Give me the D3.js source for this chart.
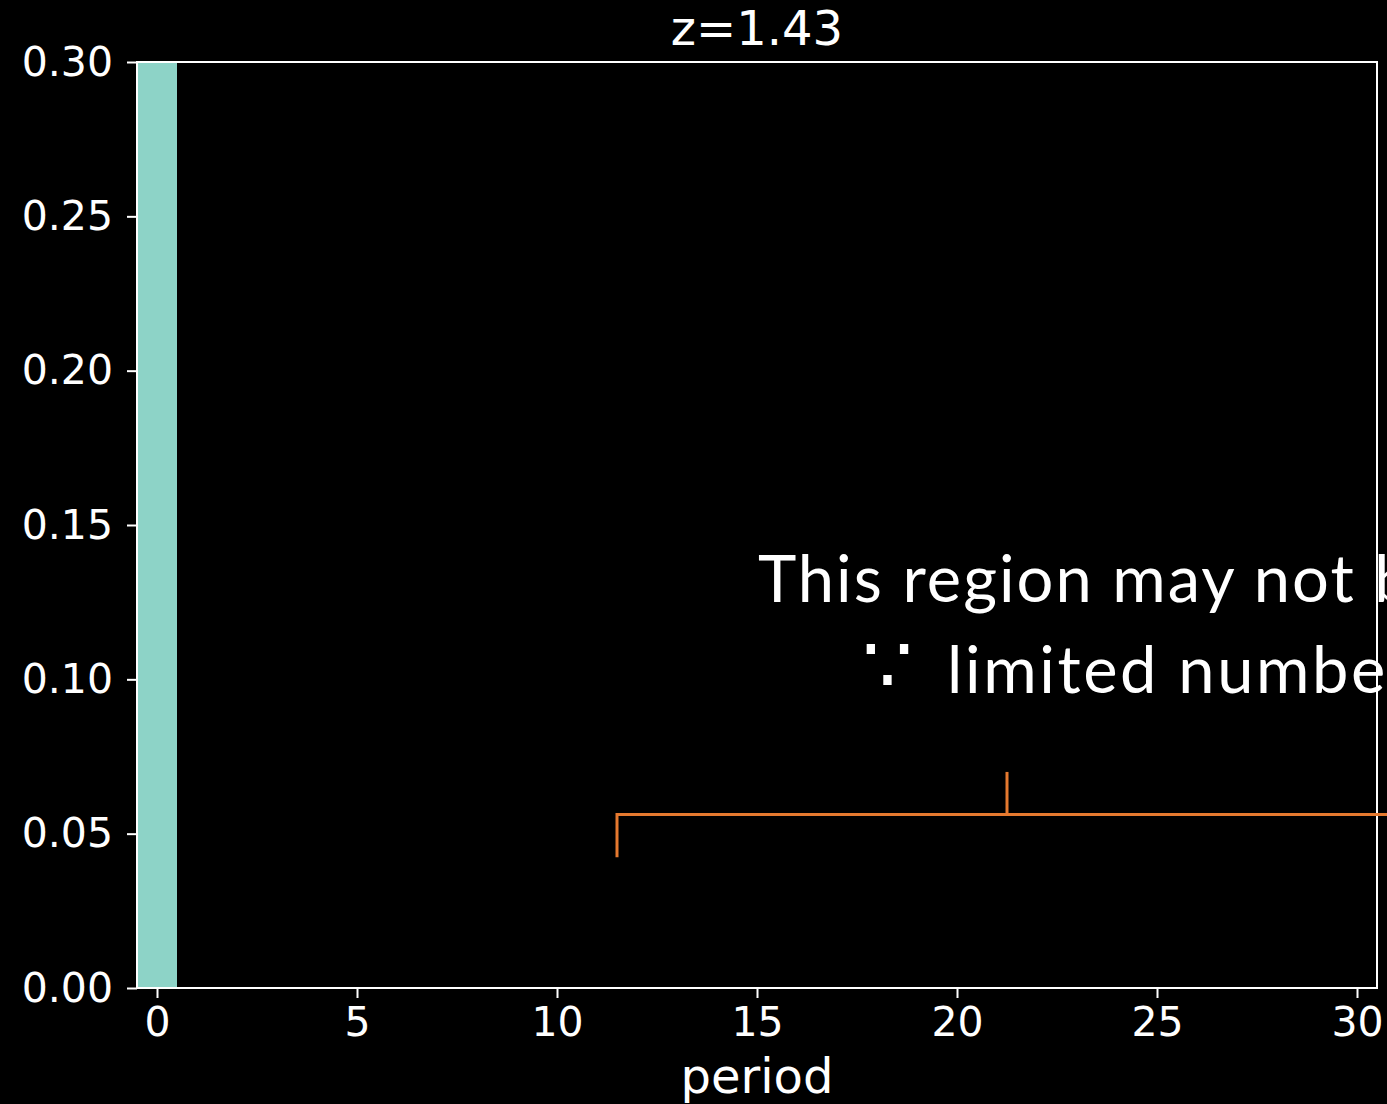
<!DOCTYPE html>
<html>
<head>
<meta charset="utf-8">
<script src="https://cdn.jsdelivr.net/npm/d3@7"></script>
<style>
  html, body { margin: 0; padding: 0; background: #000; }
  svg { display: block; }
</style>
</head>
<body>
<script>
// Data (only period 0 has a visible bar; it is clipped above 0.30)
const periods = [0];
const values = [0.95];
const xTicks = [0, 5, 10, 15, 20, 25, 30];
const yTicks = [0.00, 0.05, 0.10, 0.15, 0.20, 0.25, 0.30];
const titleText = "z=1.43";
const xLabelText = "period";
const noteLine1 = "This region may not be reliable";
const noteSymbol = "\u2235";
const noteLine2 = "limited number of samples";
// bracket in data coordinates
const bracket = { x0: 11.5, xm: 21.25, y: 0.0562, yLeft: 0.0424, yMid: 0.0700 };

const W = 1387, H = 1104;
const margin = { left: 137, right: W - 1377, top: 62, bottom: H - 988 };

const svg = d3.select("body").append("svg").attr("width", W).attr("height", H)
  .style("background", "#000");

const x = d3.scaleLinear().domain([-0.5, 30.5]).range([margin.left, W - margin.right]);
const y = d3.scaleLinear().domain([0, 0.30]).range([H - margin.bottom, margin.top]);

svg.append("defs").append("clipPath").attr("id", "plotclip")
  .append("rect").attr("x", x(-0.5)).attr("y", y(0.30))
  .attr("width", x(30.5) - x(-0.5)).attr("height", y(0) - y(0.30));

// bars
svg.append("g").attr("clip-path", "url(#plotclip)")
  .selectAll("rect").data(periods.map((p, i) => ({ p, v: values[i] })))
  .join("rect")
  .attr("x", d => x(d.p - 0.5))
  .attr("width", d => x(d.p + 0.5) - x(d.p - 0.5))
  .attr("y", d => y(d.v))
  .attr("height", d => y(0) - y(d.v))
  .attr("fill", "#8dd3c7");

// axes
const font = "'DejaVu Sans', sans-serif";
const xAxis = svg.append("g").attr("transform", `translate(0,${y(0)})`)
  .call(d3.axisBottom(x).tickValues(xTicks).tickSize(10).tickPadding(9).tickFormat(d3.format("d")));
const yAxis = svg.append("g").attr("transform", `translate(${x(-0.5)},0)`)
  .call(d3.axisLeft(y).tickValues(yTicks).tickSize(10).tickPadding(14).tickFormat(d3.format(".2f")));
[xAxis, yAxis].forEach(g => {
  g.select(".domain").remove();
  g.selectAll(".tick line").attr("stroke", "#fff").attr("stroke-width", 2);
  g.selectAll(".tick text").attr("fill", "#fff").style("font-family", font).style("font-size", "41px");
});

// spines
svg.append("rect")
  .attr("x", x(-0.5)).attr("y", y(0.30))
  .attr("width", x(30.5) - x(-0.5)).attr("height", y(0) - y(0.30))
  .attr("fill", "none").attr("stroke", "#fff").attr("stroke-width", 2);

// title & label
svg.append("text").attr("x", (x(-0.5) + x(30.5)) / 2).attr("y", 45)
  .attr("text-anchor", "middle").attr("fill", "#fff")
  .style("font-family", font).style("font-size", "48px").text(titleText);
svg.append("text").attr("x", (x(-0.5) + x(30.5)) / 2).attr("y", 1093)
  .attr("text-anchor", "middle").attr("fill", "#fff")
  .style("font-family", font).style("font-size", "48px").text(xLabelText);

// orange bracket
const orange = "#e5792f";
const bg = svg.append("g").attr("stroke", orange).attr("stroke-width", 3).attr("fill", "none");
bg.append("path").attr("d",
  `M${x(bracket.x0)},${y(bracket.yLeft)} V${y(bracket.y)} H${W + 5}`);
bg.append("path").attr("d",
  `M${x(bracket.xm)},${y(bracket.y)} V${y(bracket.yMid)}`);

// annotation text (runs past the right edge, as in the reference)
const noteFont = "Lato, 'Open Sans', sans-serif";
svg.append("text").attr("x", 758).attr("y", 602).attr("fill", "#fff")
  .style("font-family", noteFont).style("font-size", "65px").style("letter-spacing", "2.0px")
  .text(noteLine1);
const t2 = svg.append("text").attr("y", 693).attr("fill", "#fff")
  .style("font-family", noteFont).style("font-size", "65px").style("letter-spacing", "2.6px");
t2.append("tspan").attr("x", 862).style("font-size", "80px").text(noteSymbol);
t2.append("tspan").attr("x", 947).text(noteLine2);
</script>
</body>
</html>
